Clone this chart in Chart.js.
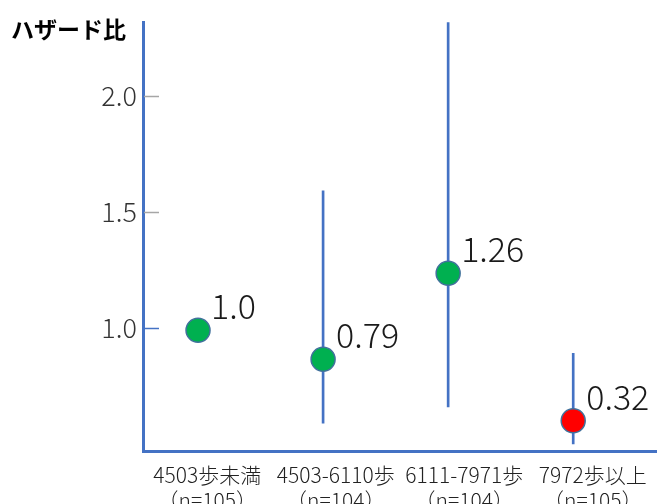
<!DOCTYPE html>
<html>
<head>
<meta charset="utf-8">
<script src="https://cdn.jsdelivr.net/npm/chart.js@4"></script>
<style>
  html, body { margin: 0; padding: 0; background: #fff; }
  #wrap { width: 657px; height: 504px; }
</style>
</head>
<body>
<div id="wrap"><canvas id="myChart" width="657" height="504"></canvas></div>
<script>
// categories (two-line tick labels)
const categories = [
  ['4503歩未満', '（n=105）'],
  ['4503-6110歩', '（n=104）'],
  ['6111-7971歩', '（n=104）'],
  ['7972歩以上', '（n=105）']
];
// where the markers sit on the y scale
const pointValues = [0.99, 0.865, 1.235, 0.60];
// the numbers printed beside the markers
const valueLabels = ['1.0', '0.79', '1.26', '0.32'];
// confidence interval ends (first group has none)
const ciLow = [null, 0.59, 0.66, 0.50];
const ciHigh = [null, 1.59, 2.32, 0.89];
const pointColors = ['#00B050', '#00B050', '#00B050', '#FF0000'];
const yTicks = [1.0, 1.5, 2.0];

const ctx = document.getElementById('myChart');
const FONT = '"Noto Sans CJK JP", "Noto Sans", sans-serif';

// short tick marks drawn inward from the y axis, title and value labels
const extras = {
  id: 'extras',
  afterDraw(chart) {
    const c = chart.ctx;
    const area = chart.chartArea;
    const y = chart.scales.y;
    c.save();
    yTicks.forEach(v => {
      const py = Math.round(y.getPixelForValue(v)) + 0.5;
      c.strokeStyle = v === 1.0 ? '#4472C4' : '#A6A6A6';
      c.lineWidth = 1.5;
      c.beginPath();
      c.moveTo(area.left + 1, py);
      c.lineTo(area.left + 16, py);
      c.stroke();
    });

    c.fillStyle = '#000';
    c.font = 'bold 23px ' + FONT;
    c.textAlign = 'left';
    c.textBaseline = 'middle';
    c.fillText('ハザード比', 11, 29);

    const meta = chart.getDatasetMeta(1);
    c.font = '300 34px ' + FONT;
    c.fillStyle = '#1a1a1a';
    meta.data.forEach((pt, i) => {
      c.fillText(valueLabels[i], pt.x + 13, pt.y - 24);
    });
    c.restore();
  }
};

const myChart = new Chart(ctx, {
  data: {
    labels: categories,
    datasets: [
      {
        type: 'bar',
        data: ciLow.map((lo, i) => ({ x: i, y: lo === null ? null : [lo, ciHigh[i]] })),
        backgroundColor: '#4472C4',
        barThickness: 2,
        xAxisID: 'x',
        order: 2
      },
      {
        type: 'scatter',
        data: pointValues.map((v, i) => ({ x: i, y: v })),
        pointRadius: 12,
        pointHoverRadius: 12,
        pointBackgroundColor: pointColors,
        pointBorderColor: '#41719C',
        pointBorderWidth: 1.5,
        xAxisID: 'x',
        clip: false,
        order: 1
      }
    ]
  },
  options: {
    responsive: false,
    animation: false,
    layout: { autoPadding: false, padding: { top: 18, left: 0, right: 0, bottom: 0 } },
    plugins: { legend: { display: false }, tooltip: { enabled: false } },
    scales: {
      x: {
        type: 'linear',
        display: false,
        offset: false,
        grid: { offset: false },
        min: -0.44,
        max: 3.67
      },
      xc: {
        type: 'category',
        position: 'bottom',
        offset: true,
        grid: { display: false },
        border: { display: true, color: '#4472C4', width: 3 },
        ticks: {
          color: '#222',
          font: { family: FONT, size: 21, weight: 300 },
          padding: 3,
          maxRotation: 0
        },
        afterFit(scale) {
          scale.height = 53;
          scale.paddingLeft = 0;
          scale.paddingRight = 0;
        }
      },
      y: {
        min: 0.47,
        max: 2.316,
        grid: { display: false, drawTicks: false },
        border: { display: true, color: '#4472C4', width: 3 },
        afterBuildTicks(scale) { scale.ticks = yTicks.map(v => ({ value: v })); },
        ticks: {
          color: '#333',
          font: { family: FONT, size: 27, weight: 300 },
          padding: 6,
          callback: v => v.toFixed(1)
        },
        afterFit(scale) { scale.width = 143; }
      }
    }
  },
  plugins: [extras]
});
</script>
</body>
</html>
